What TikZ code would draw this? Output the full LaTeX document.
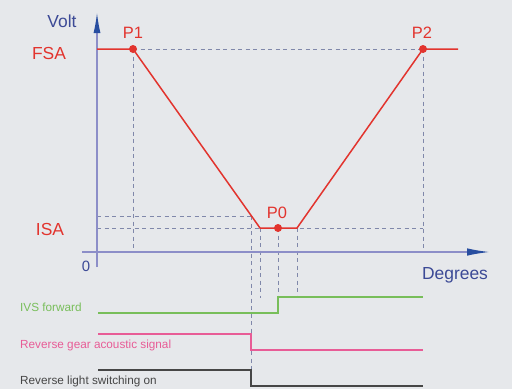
\documentclass[tikz,border=0pt]{standalone}
\usepackage{fontspec}
\setmainfont{Liberation Sans}
\usetikzlibrary{arrows.meta}

\definecolor{bgcol}{RGB}{230,232,235}
\definecolor{redcol}{RGB}{226,52,46}
\definecolor{axcol}{RGB}{140,142,200}
\definecolor{tipcol}{RGB}{40,78,160}
\definecolor{bluetext}{RGB}{60,74,150}
\definecolor{dashcol}{RGB}{128,136,170}
\definecolor{greencol}{RGB}{120,190,90}
\definecolor{pinkcol}{RGB}{232,92,150}
\definecolor{darkcol}{RGB}{70,70,70}

\tikzset{
  axis/.style={draw=axcol,line width=1.6bp},
  guide/.style={draw=dashcol,line width=0.9bp,dash pattern=on 4bp off 3.5bp},
  curve/.style={draw=redcol,line width=1.5bp},
  signal/.style={line width=1.5bp},
  dot/.style={circle,fill=redcol,inner sep=0pt,minimum size=8bp},
  lbl/.style={anchor=base,inner sep=0pt,font=\fontsize{17.5}{20}\selectfont},
  siglbl/.style={anchor=base west,inner sep=0pt,font=\fontsize{11.8}{14}\selectfont}
}

\begin{document}
\begin{tikzpicture}[x=1bp,y=-1bp]

      \fill[bgcol] (0,0) rectangle (512,389);
      \useasboundingbox (0,0) rectangle (512,389);

      \coordinate (fsaL) at (97,49);
      \coordinate (fsaR) at (458,49);
      \coordinate (isaL) at (97,228);
      \coordinate (isaR) at (423,228);
      \coordinate (p1c)  at (133,49);
      \coordinate (p2c)  at (423,49);
      \coordinate (p0c)  at (278,228);
      \coordinate (a)    at (260,228);
      \coordinate (b)    at (297,228);
      \coordinate (c)    at (251,216);
      \coordinate (cL)   at (97,216);
      \coordinate (yB)   at (97,267);
      \coordinate (yT)   at (97,12);
      \coordinate (xL)   at (82,252);
      \coordinate (xR)   at (490,252);

      \begin{scope}[every path/.style={guide}]
        \path (p1c) -- (p2c);
        \path (p1c) -- (133,252);
        \path (p2c) -- (423,252);
        \path (cL) -- (c);
        \path (isaL) -- (isaR);
        \path (c) -- (251,386);
        \path (a) -- (260,298);
        \path (p0c) -- (278,297);
        \path (b) -- (297,297);
      \end{scope}

      \path[axis,-{Latex[length=21bp,width=7bp,color=tipcol]}] (yB) -- (yT);
      \path[axis,-{Latex[length=23bp,width=7.5bp,color=tipcol]}] (xL) -- (xR);

      \path[curve] (fsaL) -- (p1c) -- (a) -- (b) -- (p2c) -- (fsaR);

      \begin{scope}[every node/.style={dot}]
        \node (P1) at (p1c) {};
        \node (P2) at (p2c) {};
        \node (P0) at (p0c) {};
      \end{scope}

      \draw[signal,greencol] (98,313) -- (278,313) -- (278,297) -- (423,297);
      \draw[signal,pinkcol]  (98,334) -- (251,334) -- (251,350) -- (423,350);
      \draw[signal,darkcol]  (98,370) -- (251,370) -- (251,386) -- (423,386);

      \begin{scope}[every node/.style={lbl}]
        \node[text=bluetext] (volt) at (62,27.5)  {Volt};
        \node[text=bluetext] (deg)  at (455,279.5) {Degrees};
        \node[text=bluetext,font=\fontsize{15}{18}\selectfont] (zero) at (86,271.5) {0};
        \node[text=redcol] (fsa) at (49,59.5)  {FSA};
        \node[text=redcol] (isa) at (50,235)   {ISA};
        \node[text=redcol,font=\fontsize{16.5}{18}\selectfont] (p1) at (133,38)  {P1};
        \node[text=redcol,font=\fontsize{16.5}{18}\selectfont] (p2) at (422,38)  {P2};
        \node[text=redcol,font=\fontsize{16.5}{18}\selectfont] (p0) at (277,218) {P0};
      \end{scope}

      \begin{scope}[every node/.style={siglbl}]
        \node[text=greencol] (ivs)   at (20,311.5) {IVS forward};
        \node[text=pinkcol]  (gear)  at (20,348.5) {Reverse gear acoustic signal};
        \node[text=darkcol]  (light) at (20,384.5) {Reverse light switching on};
      \end{scope}

    \end{tikzpicture}
\end{document}
